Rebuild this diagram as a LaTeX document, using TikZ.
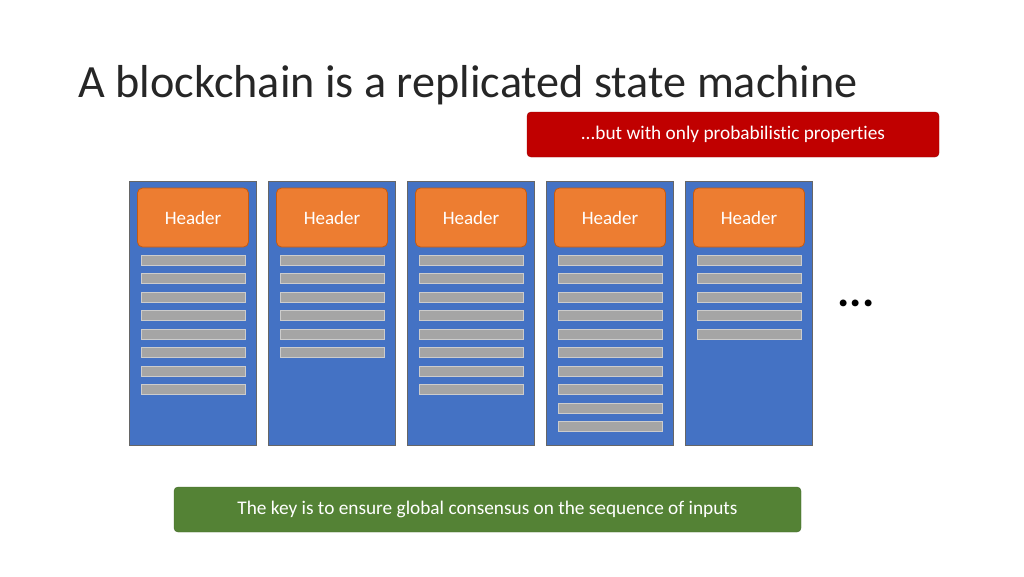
\documentclass[tikz,border=0pt]{standalone}
\usepackage{fontspec}
\setmainfont[Ligatures=NoCommon]{Carlito}
\begin{document}
\begin{tikzpicture}[x=1pt,y=-1pt,
  col/.style={draw=black!60,line width=0.6pt,fill=blockblue},
  hdr/.style={draw=hdrline,line width=0.8pt,fill=hdrorange,rounded corners=5pt,text=white,font=\fontsize{19}{21}\selectfont},
  bar/.style={draw=white!60!gray,line width=0.6pt,fill=barbgray},
  banner/.style={rounded corners=4pt,text=white,font=\fontsize{19.3}{22}\selectfont}]
\definecolor{blockblue}{HTML}{4472C4}
\definecolor{hdrorange}{HTML}{ED7D31}
\definecolor{hdrline}{HTML}{C55A11}
\definecolor{barbgray}{HTML}{A5A5A5}
\definecolor{redbox}{HTML}{C00000}
\definecolor{greenbox}{HTML}{548235}
\useasboundingbox (0,0) rectangle (1024,576);
\node[anchor=west,font=\fontsize{46.2}{52}\selectfont,text=black!85,inner sep=0pt] (title) at (78,85) {A blockchain is a replicated state machine};
\node[banner,fill=redbox,draw=redbox!80!black,minimum width=412pt,minimum height=45pt] (red) at (733,134.5) {...but with only probabilistic properties};
\node[banner,fill=greenbox,draw=greenbox!80!black,minimum width=627pt,minimum height=45pt] (green) at (487.5,509.5) {The key is to ensure global consensus on the sequence of inputs};
\foreach \i/\n in {0/8,1/6,2/8,3/10,4/5}{
  \pgfmathsetmacro{\xo}{129+139*\i}
  \node[col,minimum width=127pt,minimum height=264pt,inner sep=0pt] (c\i) at (\xo+63.5,313) {};
  \node[hdr,minimum width=111pt,minimum height=59pt,inner sep=0pt] (h\i) at (\xo+64,217.5) {Header};
  \foreach \k in {1,...,\n}{
    \node[bar,minimum width=104pt,minimum height=10pt,inner sep=0pt] (b\i-\k) at (\xo+64,241.5+18.5*\k) {};
  }
}
\node[font=\fontsize{46}{46}\selectfont\bfseries] (dots) at (856,303) {...};
\end{tikzpicture}
\end{document}
